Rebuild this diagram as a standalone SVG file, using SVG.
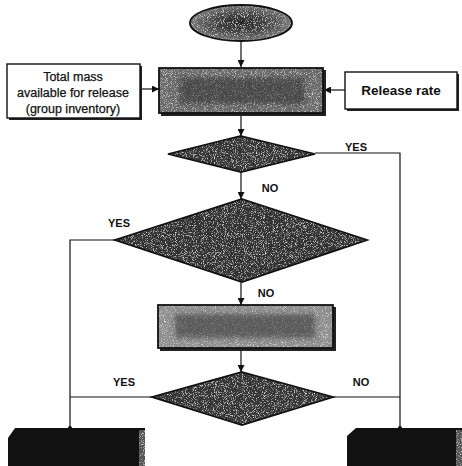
<svg xmlns="http://www.w3.org/2000/svg" width="462" height="466" viewBox="0 0 462 466">
<defs>
<style>
.ln{fill:none;stroke:#111;stroke-width:1.2}
.arr{fill:none;stroke:#111;stroke-width:1.2;marker-end:url(#ah)}
.edge{fill:none;stroke:#111;stroke-width:1.8}
.lbl{font-family:"Liberation Sans",Arial,sans-serif;font-weight:bold;font-size:11px;fill:#111;text-anchor:middle}
.txt{font-family:"Liberation Sans",Arial,sans-serif;font-size:12.5px;fill:#111;text-anchor:middle;stroke:#111;stroke-width:0.25}
.txtb{font-family:"Liberation Sans",Arial,sans-serif;font-size:13.5px;font-weight:bold;fill:#111;text-anchor:middle}
.wbox{fill:#fff;stroke:#111;stroke-width:1.4}
.shadow{fill:#222}
</style>
<marker id="ah" viewBox="0 0 10 10" refX="10" refY="5" markerWidth="7" markerHeight="7" markerUnits="userSpaceOnUse" orient="auto">
<path d="M0,0 L10,5 L0,10 z" fill="#111"/>
</marker>
<filter id="grain" x="0" y="0" width="100%" height="100%">
<feTurbulence type="fractalNoise" baseFrequency="1.1" numOctaves="2" seed="4" result="n"/>
<feColorMatrix in="n" type="matrix" values="0 0 0 0 0.8  0 0 0 0 0.8  0 0 0 0 0.8  0 0 0 3 -1.6" result="w"/>
<feComposite in="w" in2="SourceGraphic" operator="in" result="ws"/>
<feMerge><feMergeNode in="SourceGraphic"/><feMergeNode in="ws"/></feMerge>
</filter>
<filter id="blur" x="-20%" y="-50%" width="140%" height="200%"><feGaussianBlur stdDeviation="2.5"/></filter>
<radialGradient id="ellg" cx="0.5" cy="0.5" r="0.5">
<stop offset="0" stop-color="#222"/><stop offset="0.5" stop-color="#444"/><stop offset="1" stop-color="#777"/>
</radialGradient>
</defs>

<g id="connectors">
<line class="arr" x1="241" y1="41" x2="241" y2="67"/>
<line class="arr" x1="141" y1="89" x2="159" y2="89"/>
<line class="arr" x1="345" y1="90" x2="324" y2="90"/>
<line class="arr" x1="241" y1="114" x2="241" y2="136"/>
<polyline class="ln" points="315,153 400,153 400,428"/>
<line class="arr" x1="241" y1="172" x2="241" y2="199"/>
<polyline class="ln" points="115,240 70,240 70,428"/>
<line class="arr" x1="241" y1="282" x2="241" y2="305"/>
<line class="arr" x1="241" y1="350" x2="241" y2="372"/>
<line class="ln" x1="152" y1="397" x2="70" y2="397"/>
<line class="ln" x1="333" y1="397" x2="400" y2="397"/>
<circle cx="70" cy="428" r="2" fill="#111"/>
<circle cx="400" cy="428" r="2" fill="#111"/>
<text class="lbl" x="356" y="151">YES</text>
<text class="lbl" x="270" y="192">NO</text>
<text class="lbl" x="119" y="227">YES</text>
<text class="lbl" x="266" y="297">NO</text>
<text class="lbl" x="124" y="386">YES</text>
<text class="lbl" x="361" y="386">NO</text>
</g>

<g id="start">
<ellipse cx="241" cy="23" rx="51" ry="18" fill="url(#ellg)" filter="url(#grain)"/>
<ellipse cx="241" cy="23" rx="51" ry="18" class="edge" stroke-width="1.4"/>
</g>

<g id="inventory">
<rect x="9" y="66" width="133" height="54" class="shadow"/>
<rect x="7" y="64" width="133" height="54" class="wbox"/>
<text class="txt" x="73" y="81">Total mass</text>
<text class="txt" x="73" y="97">available for release</text>
<text class="txt" x="73" y="113">(group inventory)</text>
</g>

<g id="release-rate">
<rect x="347" y="74" width="112" height="37" class="shadow"/>
<rect x="345" y="72" width="112" height="37" class="wbox"/>
<text class="txtb" x="401" y="95">Release rate</text>
</g>

<g id="process-1">
<rect x="161" y="70" width="165" height="46" class="shadow"/>
<rect x="159" y="68" width="164" height="45" fill="#6a6a6a" filter="url(#grain)"/>
<rect x="180" y="78" width="125" height="26" fill="#222" opacity="0.45" filter="url(#blur)"/>
<rect x="159" y="68" width="164" height="45" class="edge"/>
</g>

<g id="decision-1">
<polygon points="241,136 315,154 241,172 168,154" fill="#353535" filter="url(#grain)"/>
<polygon points="241,136 315,154 241,172 168,154" class="edge" stroke-width="1.2"/>
</g>

<g id="decision-2">
<polygon points="242,199 367,240 242,282 115,240" fill="#333" filter="url(#grain)"/>
<polygon points="242,199 367,240 242,282 115,240" class="edge" stroke-width="1.2"/>
</g>

<g id="process-2">
<rect x="160" y="307" width="176" height="44" class="shadow"/>
<rect x="158" y="305" width="175" height="43" fill="#8e8e8e" filter="url(#grain)"/>
<rect x="175" y="314" width="140" height="24" fill="#2a2a2a" opacity="0.5" filter="url(#blur)"/>
<rect x="158" y="305" width="175" height="43" class="edge" stroke-width="1.2"/>
</g>

<g id="decision-3">
<polygon points="242,372 333,397 242,425 152,397" fill="#353535" filter="url(#grain)"/>
<polygon points="242,372 333,397 242,425 152,397" class="edge" stroke-width="1.2"/>
</g>

<g id="end-yes">
<path d="M15,428 L145,428 L145,466 L8,466 L8,438 Z" fill="#111"/>
<rect x="139" y="430" width="6" height="36" fill="#555" filter="url(#grain)"/>
</g>

<g id="end-no">
<path d="M356,428 L462,428 L462,466 L347,466 L347,436 Z" fill="#111"/>
<rect x="456" y="430" width="6" height="36" fill="#555" filter="url(#grain)"/>
</g>
</svg>
